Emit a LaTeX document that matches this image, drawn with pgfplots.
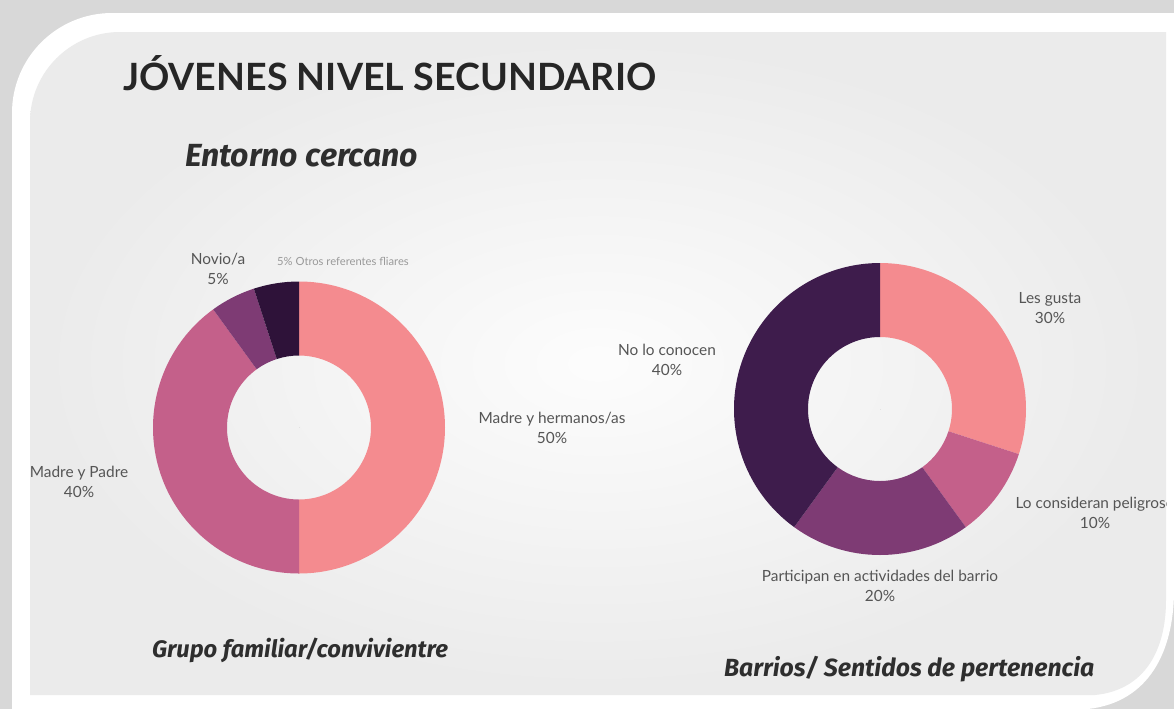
\documentclass[border=0pt]{standalone}
\usepackage{pgfplots}
\pgfplotsset{compat=1.18}
\usepackage{pgfplotstable}
\usepackage{fontspec}
\setmainfont{Lato}
\newfontfamily\subfont{Fira Sans}

% slice colours, picked by the ci column
\definecolor{slc1}{HTML}{F48B8F}
\definecolor{slc2}{HTML}{C4608A}
\definecolor{slc3}{HTML}{7E3B74}
\definecolor{slc4}{HTML}{2E1239}
\definecolor{slc5}{HTML}{3E1C4C}
\definecolor{lbl}{HTML}{555555}
\definecolor{outergray}{HTML}{D8D8D8}

% one row per slice: start (cumulative %) and share (%)
\pgfplotstableread{
x y start val ci
0 0 0 50 1
0 0 50 40 2
0 0 90 5 3
0 0 95 5 4
}\familia

\pgfplotstableread{
x y start val ci
0 0 0 30 1
0 0 30 10 2
0 0 40 20 3
0 0 60 40 5
}\barrio

\pgfplotsset{
  donut/.style={hide axis, scale only axis, width=146pt, height=146pt,
    xmin=-1, xmax=1, ymin=-1, ymax=1, anchor=center, clip=false},
  slices/.style={scatter, only marks, mark=*, mark size=0pt,
    mark options={draw=none, fill=none},
    visualization depends on={\thisrow{start} \as \sstart},
    visualization depends on={\thisrow{val} \as \sval},
    visualization depends on={\thisrow{ci} \as \sci},
    scatter/@pre marker code/.code={%
      \pgfmathsetmacro\angA{90-3.6*\sstart}%
      \pgfmathsetmacro\angB{90-3.6*(\sstart+\sval)}%
      \pgfmathtruncatemacro\cidx{\sci}%
      \fill[slc\cidx, draw=none] (\angA:73pt) arc[start angle=\angA, end angle=\angB, radius=73pt]
        -- (\angB:36pt) arc[start angle=\angB, end angle=\angA, radius=36pt] -- cycle;
      \begin{scope}},
    scatter/@post marker code/.code={\end{scope}}},
}

\newcommand\lblfont{\fontsize{7.7}{10}\selectfont}

\begin{document}
\begin{tikzpicture}
\useasboundingbox (0,0) rectangle (587pt,-354.5pt);
\begin{scope}[x=0.5pt, y=-0.5pt]
  \fill[outergray] (0,0) rectangle (1174,709);
  \fill[white] (12,709) -- (12,113) arc[start angle=180, end angle=270, radius=100]
    -- (1174,13) -- (1174,590) .. controls (1174,650) and (1150,702) .. (1088,709) -- cycle;
  \shade[inner color=white!99!black, outer color=white!92!black]
    (30,695) -- (30,122) arc[start angle=180, end angle=270, radius=90]
    -- (1166,32) -- (1166,600) .. controls (1166,650) and (1145,690) .. (1095,695) -- cycle;

  \node[anchor=base west, text=black!85, font=\fontsize{18.8}{21}\selectfont\bfseries]
    at (116,90) {JÓVENES NIVEL SECUNDARIO};
  \node[anchor=base west, text=black!82, font=\subfont\fontsize{16}{18}\selectfont\bfseries\itshape]
    at (178,166) {Entorno cercano};
  \node[anchor=base west, text=black!82, font=\subfont\fontsize{11.9}{13}\selectfont\bfseries\itshape]
    at (145,657) {Grupo familiar/convivientre};
  \node[anchor=base west, text=black!82, font=\subfont\fontsize{12.4}{14}\selectfont\bfseries\itshape]
    at (717,676) {Barrios/ Sentidos de pertenencia};

  \begin{scope}
    \clip (30,32) rectangle (1166,695);
    \node[align=center, text=lbl, font=\lblfont] at (218,269) {Novio/a\\5\%};
    \node[text=black!40, font=\fontsize{5.6}{6}\selectfont] at (343,261) {5\% Otros referentes fliares};
    \node[align=center, text=lbl, font=\lblfont] at (79,482) {Madre y Padre\\40\%};
    \node[align=center, text=lbl, font=\lblfont] at (552,428) {Madre y hermanos/as\\50\%};
    \node[align=center, text=lbl, font=\lblfont] at (1050,308) {Les gusta\\30\%};
    \node[align=center, text=lbl, font=\lblfont] at (667,360) {No lo conocen\\40\%};
    \node[align=center, text=lbl, font=\lblfont] at (1095,513) {Lo consideran peligroso\\10\%};
    \node[align=center, text=lbl, font=\lblfont] at (880,586) {Participan en actividades del barrio\\20\%};
  \end{scope}
\end{scope}

\begin{axis}[donut, at={(149.5pt,-213.75pt)}]
  \addplot[slices] table {\familia};
\end{axis}

\begin{axis}[donut, at={(440pt,-204.5pt)}]
  \addplot[slices] table {\barrio};
\end{axis}
\end{tikzpicture}
\end{document}
